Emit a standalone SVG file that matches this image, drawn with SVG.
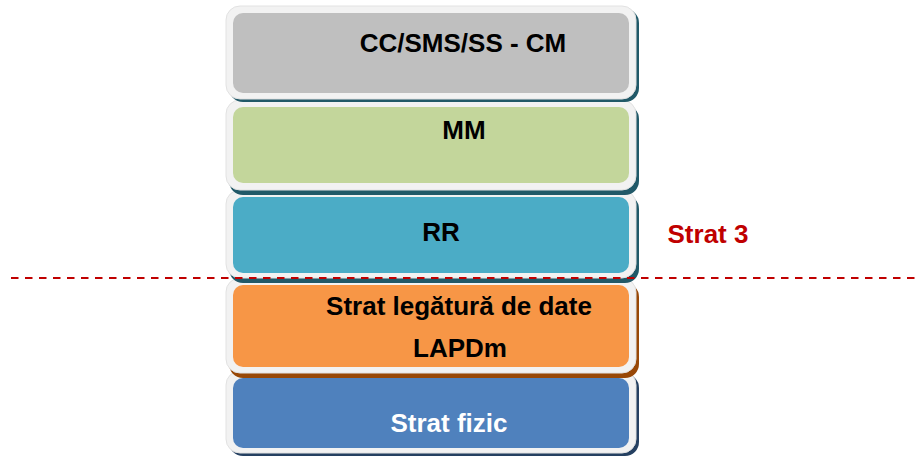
<svg xmlns="http://www.w3.org/2000/svg" width="919" height="457" viewBox="0 0 919 457">
  <style>
    .frame { fill: #f2f2f2; stroke: #e2e2e2; stroke-width: 1; }
    .lbl { font-family: "Liberation Sans", Arial, sans-serif; font-weight: bold; font-size: 26px; text-anchor: middle; fill: #000; }
    .sep { stroke: #c00000; stroke-width: 2; stroke-dasharray: 7.5 6.5; fill: none; }
  </style>
  <rect width="919" height="457" fill="#ffffff"/>

  <!-- layers drawn bottom-up so each shadow falls over the layer below -->
  <g id="layer-fizic">
    <rect x="229" y="374" width="410" height="82" rx="14" fill="#254061"/>
    <rect class="frame" x="226" y="371" width="410" height="82" rx="14"/>
    <rect x="233" y="378" width="396" height="70" rx="10" fill="#4f81bd"/>
    <text class="lbl" x="449" y="432" style="fill:#ffffff">Strat fizic</text>
  </g>

  <g id="layer-lapdm">
    <rect x="229" y="283" width="410" height="95" rx="14" fill="#984807"/>
    <rect class="frame" x="226" y="278" width="410" height="95" rx="14"/>
    <rect x="233" y="285" width="396" height="82" rx="10" fill="#f79646"/>
    <text class="lbl" x="459" y="315">Strat legătură de date</text>
    <text class="lbl" x="460" y="357">LAPDm</text>
  </g>

  <g id="layer-rr">
    <rect x="229" y="195" width="410" height="88" rx="14" fill="#215968"/>
    <rect class="frame" x="226" y="190" width="410" height="88" rx="14"/>
    <rect x="233" y="197" width="396" height="76" rx="10" fill="#4bacc6"/>
    <text class="lbl" x="441" y="241">RR</text>
  </g>

  <g id="layer-mm">
    <rect x="229" y="105" width="410" height="90" rx="14" fill="#215968"/>
    <rect class="frame" x="226" y="100" width="410" height="90" rx="14"/>
    <rect x="233" y="107" width="396" height="76" rx="10" fill="#c3d69b"/>
    <text class="lbl" x="464" y="139">MM</text>
  </g>

  <g id="layer-cm">
    <rect x="229" y="9" width="410" height="93" rx="14" fill="#215968"/>
    <rect class="frame" x="226" y="6" width="410" height="93" rx="14"/>
    <rect x="233" y="13" width="396" height="80" rx="10" fill="#bfbfbf"/>
    <text class="lbl" x="463" y="52">CC/SMS/SS - CM</text>
  </g>

  <g id="connectors">
    <line class="sep" x1="11" y1="278" x2="916" y2="278"/>
  </g>

  <g id="label-strat3">
    <text class="lbl" x="708" y="243" style="fill:#c00000">Strat 3</text>
  </g>
</svg>
